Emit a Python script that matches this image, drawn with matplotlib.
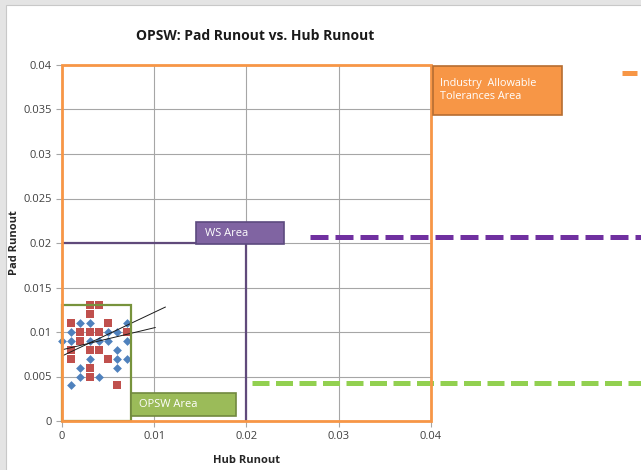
import matplotlib
matplotlib.use('Agg')
import matplotlib.pyplot as plt
from matplotlib.patches import Rectangle
import numpy as np

plt.rcParams['font.family'] = ['Open Sans', 'DejaVu Sans']

# pad / hub runout readings (blue diamonds and red squares)
blue_x = [0.002, 0.003, 0.007, 0.001, 0.005, 0.006, 0.000, 0.001, 0.003, 0.004, 0.005, 0.007,
          0.006, 0.003, 0.006, 0.007, 0.002, 0.006, 0.002, 0.004, 0.001]
blue_y = [0.011, 0.011, 0.011, 0.010, 0.010, 0.010, 0.009, 0.009, 0.009, 0.009, 0.009, 0.009,
          0.008, 0.007, 0.007, 0.007, 0.006, 0.006, 0.005, 0.005, 0.004]
red_x = [0.003, 0.004, 0.003, 0.001, 0.005, 0.002, 0.003, 0.004, 0.007, 0.002, 0.001, 0.003,
         0.004, 0.001, 0.005, 0.003, 0.003, 0.006]
red_y = [0.013, 0.013, 0.012, 0.011, 0.011, 0.010, 0.010, 0.010, 0.010, 0.009, 0.008, 0.008,
         0.008, 0.007, 0.007, 0.006, 0.005, 0.004]

# trend lines (end points)
trend1_x = [0.0, 0.0112]
trend1_y = [0.0073, 0.0128]
trend2_x = [0.0, 0.0101]
trend2_y = [0.0080, 0.0105]

# limit areas
industry_lim = 0.04
ws_lim = 0.02
opsw_x_lim = 0.0075
opsw_y_lim = 0.013

xticks = [0, 0.01, 0.02, 0.03, 0.04]
xticklabels = ['0', '0.01', '0.02', '0.03', '0.04']
yticks = [0, 0.005, 0.01, 0.015, 0.02, 0.025, 0.03, 0.035, 0.04]
yticklabels = ['0', '0.005', '0.01', '0.015', '0.02', '0.025', '0.03', '0.035', '0.04']

fig = plt.figure(figsize=(6.41, 4.70), dpi=100)
fig.patch.set_facecolor('#e4e4e4')
# white chart area behind everything
bg = fig.add_axes([0, 0, 1, 1], zorder=-5)
bg.set_axis_off()
bg.set_xlim(0, 1)
bg.set_ylim(0, 1)
bg.add_patch(Rectangle((6 / 641, -0.01), 1, 1 - 5 / 470 + 0.01, facecolor='white',
                       edgecolor='#c8c8c8', lw=0.8))

ax = fig.add_axes([62 / 641, 1 - 421 / 470, 369 / 641, 356 / 470])
ax.patch.set_alpha(0)
ax.set_xlim(0, 0.04)
ax.set_ylim(0, 0.04)
ax.set_xticks(xticks)
ax.set_xticklabels(xticklabels)
ax.set_yticks(yticks)
ax.set_yticklabels(yticklabels)
ax.grid(True, color='#a6a6a6', lw=0.8)
ax.set_axisbelow(True)
for s in ax.spines.values():
    s.set_visible(False)
ax.tick_params(axis='both', colors='#a6a6a6', labelcolor='#404040', labelsize=8, length=4, width=0.8)

ax.scatter(blue_x, blue_y, marker='D', s=20, color='#4f81bd', lw=0, zorder=3, clip_on=False)
ax.scatter(red_x, red_y, marker='s', s=31, color='#c0504d', lw=0, zorder=3, clip_on=False)
ax.plot(trend1_x, trend1_y, color='#1a1a1a', lw=0.7, zorder=4)
ax.plot(trend2_x, trend2_y, color='#1a1a1a', lw=0.7, zorder=4)

# industry allowable area
ax.add_patch(Rectangle((0, 0), industry_lim, industry_lim, fill=False, edgecolor='#f79646',
                       lw=2.0, zorder=5, clip_on=False))
# WS area
ax.plot([0, ws_lim, ws_lim], [ws_lim, ws_lim, 0], color='#604a7b', lw=1.6, zorder=4)
# OPSW area
ax.add_patch(Rectangle((0, 0), opsw_x_lim, opsw_y_lim, fill=False, edgecolor='#77933c',
                       lw=1.6, zorder=4, clip_on=False))

# labels boxes
ax.add_patch(Rectangle((0.0402, 0.0344), 0.0140, 0.0055, facecolor='#f79646', edgecolor='#b66d31',
                       lw=1.2, zorder=6, clip_on=False))
ax.text(0.0410, 0.0372, 'Industry  Allowable\nTolerances Area', color='white', fontsize=7.8,
        va='center', ha='left', linespacing=1.35, zorder=7, clip_on=False)
ax.add_patch(Rectangle((0.01453, 0.01989), 0.00954, 0.00247, facecolor='#8064a2', edgecolor='#5c4a7f',
                       lw=1.2, zorder=6, clip_on=False))
ax.text(0.0155, 0.02112, 'WS Area', color='white', fontsize=8, va='center', ha='left', zorder=7)
ax.add_patch(Rectangle((0.00748, 0.00056), 0.01138, 0.00259, facecolor='#9bbb59', edgecolor='#71893f',
                       lw=1.2, zorder=6, clip_on=False))
ax.text(0.0084, 0.00185, 'OPSW Area', color='white', fontsize=8, va='center', ha='left', zorder=7)

# dashed markers running off to the right
ax.plot([0.0269, 0.0630], [0.0207, 0.0207], color='#7030a0', lw=3.6, dashes=(3.6, 1.4),
        clip_on=False, zorder=4)
ax.plot([0.0206, 0.0630], [0.00427, 0.00427], color='#92d050', lw=3.6, dashes=(3.4, 1.3),
        clip_on=False, zorder=4)
ax.plot([0.0607, 0.0623], [0.0391, 0.0391], color='#f79646', lw=3.6, solid_capstyle='butt',
        clip_on=False, zorder=4)

ax.set_xlabel('Hub Runout', fontsize=8, fontweight='bold', color='#262626', labelpad=9)
ax.set_ylabel('Pad Runout', fontsize=8, fontweight='bold', color='#262626', labelpad=2)
fig.text(255 / 641, 1 - 36 / 470, 'OPSW: Pad Runout vs. Hub Runout', fontsize=10, fontweight='bold',
         ha='center', va='center', color='#1a1a1a')

fig.savefig('out.png', dpi=100, facecolor=fig.get_facecolor())
